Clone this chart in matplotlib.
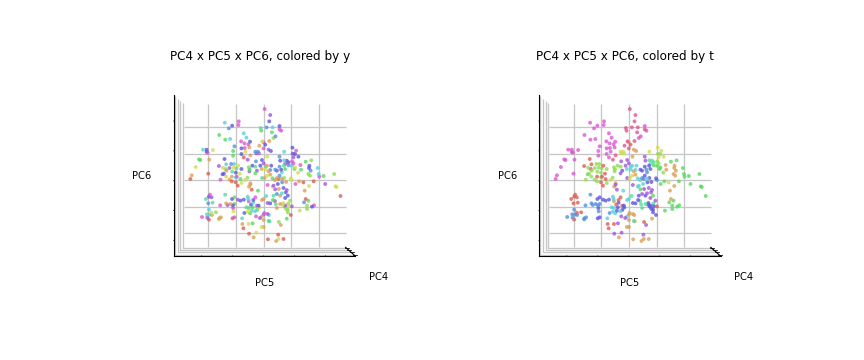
import matplotlib
matplotlib.use("Agg")
import matplotlib.pyplot as plt
import seaborn as sns

# Each row: PC5, PC6, y class, t class. Units are arbitrary:
# the reference shows no tick labels. PC4 is the depth axis and cannot be read, so it stays 0.
points = [
(3,217,10,11),(20,199,9,11),(17,180,8,11),(-75,180,10,10),(-76,169,10,10),(-95,167,8,10),(-117,176,6,10),(-105,159,7,10),
(-9,160,5,11),(-7,152,4,11),(9,162,7,11),(27,162,6,11),(48,166,8,10),(48,156,10,11),(53,152,10,10),(25,147,4,11),
(-60,144,6,10),(-134,139,4,10),(-116,125,4,10),(-101,127,6,10),(-52,131,6,10),(36,135,7,10),(30,130,3,10),(17,121,1,11),
(-68,120,10,10),(-41,119,8,10),(-58,114,10,10),(-46,111,10,10),(-88,105,7,10),(-13,107,1,11),(-4,120,2,11),(5,110,8,0),
(0,117,10,1),(-92,91,4,10),(-92,77,4,10),(-67,99,8,10),(-57,100,10,10),(-43,102,1,10),(-67,82,8,10),(-55,89,2,10),
(-60,72,0,10),(-48,65,9,11),(-40,78,1,11),(-25,89,7,2),(-17,89,7,2),(-22,84,9,2),(-14,84,10,2),(0,99,10,11),
(15,95,9,1),(22,91,8,1),(11,74,2,1),(62,89,6,2),(87,101,8,2),(98,92,10,2),(88,83,8,3),(95,82,8,3),
(105,74,8,2),(90,72,9,2),
(-183,95,6,10),(-172,95,8,10),(-153,94,2,10),(-169,86,10,10),(-172,88,8,11),(-195,66,4,10),(-191,64,4,10),(-164,65,1,10),
(-205,43,2,10),(-167,23,0,10),(-217,18,1,10),(-221,7,0,10),
(-118,67,8,0),(-135,46,9,0),(-123,41,2,3),(-113,51,6,0),(-112,32,1,3),(-120,23,8,3),(-124,21,8,4),(-98,52,7,3),
(-89,52,6,3),(-91,41,2,3),(-77,47,2,0),(-67,37,8,3),(-82,39,5,3),(-103,40,9,3),(-95,29,5,3),(-84,26,8,3),
(-72,23,2,0),(-81,14,10,0),(-113,14,2,3),(-96,0,0,3),(-130,5,10,3),(-103,5,1,3),(-84,12,6,3),(-96,14,1,0),
(-78,-13,0,0),(-84,-3,0,0),(-67,-5,2,3),(-56,4,2,2),(-49,11,3,3),(-42,36,4,3),(-34,47,8,3),(-25,44,5,3),
(-43,30,9,3),(-25,24,4,9),(-10,47,8,9),(-5,64,8,9),(0,54,9,9),(-23,60,7,9),(10,47,1,6),(6,35,2,6),
(23,47,8,6),(-6,37,1,6),(15,30,1,1),(20,20,1,1),(10,17,2,2),(3,10,1,2),(27,9,4,6),(35,35,7,8),
(48,44,7,8),(53,35,8,7),(61,47,5,8),(48,74,7,9),(50,62,8,9),(62,63,6,5),(70,62,8,5),(75,57,8,5),
(90,54,10,3),(86,60,10,3),(65,52,9,5),(75,48,7,4),(85,47,6,4),(95,42,2,4),(104,26,2,3),(93,37,4,4),
(113,35,4,1),(111,49,10,1),(127,59,4,4),(144,63,3,4),(137,40,8,1),(138,47,8,1),(163,40,6,4),(142,32,7,1),
(135,22,3,1),(140,17,3,1),(166,22,6,4),(168,14,10,4),(181,16,4,4),(213,22,3,4),(151,0,0,4),(120,-3,0,2),
(107,0,1,4),(96,-8,10,4),(186,-8,9,4),(217,-15,2,4),(220,-17,2,4),(137,-14,2,1),(124,-28,1,1),(232,-44,0,4),
(55,8,1,6),(48,17,7,8),(40,10,1,7),(34,4,1,6),(43,-8,8,6),(56,-3,7,8),(62,10,3,8),(82,9,2,8),
(85,4,2,7),(68,-2,1,8),(45,7,0,7),(30,-13,9,6),(27,-16,2,6),(12,-11,10,9),(35,-24,9,4),(46,-23,1,9),
(40,-38,7,9),(60,-20,8,9),(70,-26,9,9),(67,-33,8,9),(55,-36,6,9),(73,-43,8,4),(65,-50,8,9),(50,-43,1,8),
(30,-43,5,8),(28,-56,4,8),(8,-44,6,5),(34,-59,9,5),(20,-66,8,8),(12,-65,9,8),(-5,-56,1,6),(0,-53,1,6),
(-40,-10,1,9),(-44,-16,1,1),(-36,-25,0,9),(-17,-28,4,6),(-40,-6,1,1),
(-162,-40,10,0),(-157,-48,9,0),(-165,-46,8,0),(-174,-53,5,0),(-167,-66,7,0),(-154,-64,5,0),(-116,-40,5,7),(-88,-48,4,8),
(-95,-53,8,8),(-78,-55,9,8),(-70,-58,8,8),(-60,-55,8,8),(-48,-46,6,6),(-46,-53,6,6),(-25,-48,10,0),(-31,-56,8,0),
(-31,-64,6,8),(-131,-72,10,7),(-113,-66,1,7),(-109,-71,9,7),(-100,-68,1,7),(-93,-72,8,7),(-88,-68,4,7),(-92,-80,10,8),
(-91,-90,2,7),(-52,-78,5,6),(-45,-80,4,6),(-38,-70,8,0),(-33,-78,4,8),(-26,-90,6,6),(-20,-86,4,8),(-15,-73,8,8),
(-14,-79,2,8),(-36,-88,5,8),(-48,-91,2,6),(-58,-95,8,7),(-41,-96,4,6),(-165,-85,6,7),(-157,-94,2,0),(-144,-93,3,0),
(-171,-99,5,7),(-163,-100,6,7),(-186,-107,10,7),(-170,-109,9,7),(-156,-101,1,7),(-134,-111,1,7),(-129,-108,1,7),(-135,-114,2,7),
(-165,-115,0,0),(-94,-111,0,8),(-88,-108,10,8),(-65,-111,6,6),(-23,-105,10,9),(-11,-110,9,9),(-6,-106,1,6),(2,-95,10,1),
(0,-100,9,1),(12,-98,9,1),(16,-101,6,1),(0,-116,1,1),(15,-119,4,5),(18,-120,6,1),(46,-122,3,0),(52,-131,1,9),
(70,-112,4,1),(82,-101,0,8),(73,-93,3,8),(68,-83,3,8),(37,-69,5,5),(40,-80,1,5),(50,-68,1,5),(58,-70,2,8),
(65,-73,9,8),(75,-75,2,8),(85,-75,9,0),(73,-85,3,8),(63,-76,3,8),(80,-58,3,9),(109,-88,2,4),(131,-83,3,4),
(131,-73,3,4),(146,-76,8,4),(152,-72,10,4),(127,-53,0,1),(135,-58,4,4),(122,-63,7,4),(59,-65,2,8),(74,-67,3,5),
(-64,-128,1,0),(-61,-141,0,0),(-45,-128,2,0),(-33,-126,4,9),(-6,-137,2,1),(0,-137,1,1),(-44,-157,0,9),(-22,-154,2,9),
(-30,-168,1,1),(44,-160,0,9),(13,-174,0,1),(45,-173,2,1),(38,-179,1,1),(60,-173,0,1),
(20,34,7,6),(6,44,5,6),(40,32,8,8),(65,37,4,8),(55,27,6,7),(-115,37,3,0),(-70,7,4,0),(-45,42,3,3),
(-20,32,9,8),(-5,10,5,9),(-45,-60,10,1),(-20,-73,9,0),
]
pc5 = [p[0] / 102 for p in points]
pc6 = [p[1] / 96.5 for p in points]
pc4 = [0.0 for _ in points]
y_class = [p[2] for p in points]
t_class = [p[3] for p in points]

palette = sns.color_palette("hls", 12)
y_ticks = [-1.73, -0.865, 0, 0.865, 1.73]
z_ticks = [-1.716, -0.843, 0.03, 0.903, 1.776]
x_ticks = [-2, -0.7, 0.6, 1.9]


def keep_back_wall(gridlines, first, last):
    # PC5 and PC6 gridlines appear only on the back wall in the reference.
    setter = gridlines.set_segments
    gridlines.set_segments = lambda lines: setter(lines[:, first:last])


fig = plt.figure(figsize=(12, 5), dpi=72)
for i, (classes, name) in enumerate([(y_class, "y"), (t_class, "t")]):
    ax = fig.add_subplot(1, 2, i + 1, projection="3d")
    pos = ax.get_position()
    ax.set_position([pos.x0 + 0.7 / 864, pos.y0 + 2.5 / 360, pos.width, pos.height])
    ax.scatter(pc4, pc5, pc6, c=[palette[c] for c in classes], s=15, alpha=0.8,
               depthshade=False, linewidths=0)
    ax.view_init(elev=0, azim=0)
    ax.set_box_aspect((4, 4, 3.55), zoom=1.0)
    ax.set_xlim(-2.5, 2.5)
    ax.set_ylim(-2.5, 2.56)
    ax.set_zlim(-2.18, 2.54)
    ax.set_xticks(x_ticks)
    ax.set_yticks(y_ticks)
    ax.set_zticks(z_ticks)
    ax.set_xticklabels([])
    ax.set_yticklabels([])
    ax.set_zticklabels([])
    ax.set_xlabel("PC4", labelpad=3)
    ax.set_ylabel("PC5", labelpad=1)
    ax.set_zlabel("PC6", labelpad=2.5)
    ax.set_title(f"PC4 x PC5 x PC6, colored by {name}", y=0.988, x=0.4975)
    for axis in (ax.xaxis, ax.yaxis, ax.zaxis):
        axis.set_pane_color((1, 1, 1, 1))
        axis._axinfo["grid"].update(color="#c6c6c6", linewidth=1.3)
        axis.line.set_linewidth(1.1)
    keep_back_wall(ax.yaxis.gridlines, 0, 2)
    keep_back_wall(ax.zaxis.gridlines, 1, 3)
fig.savefig("out.png", dpi=72)
